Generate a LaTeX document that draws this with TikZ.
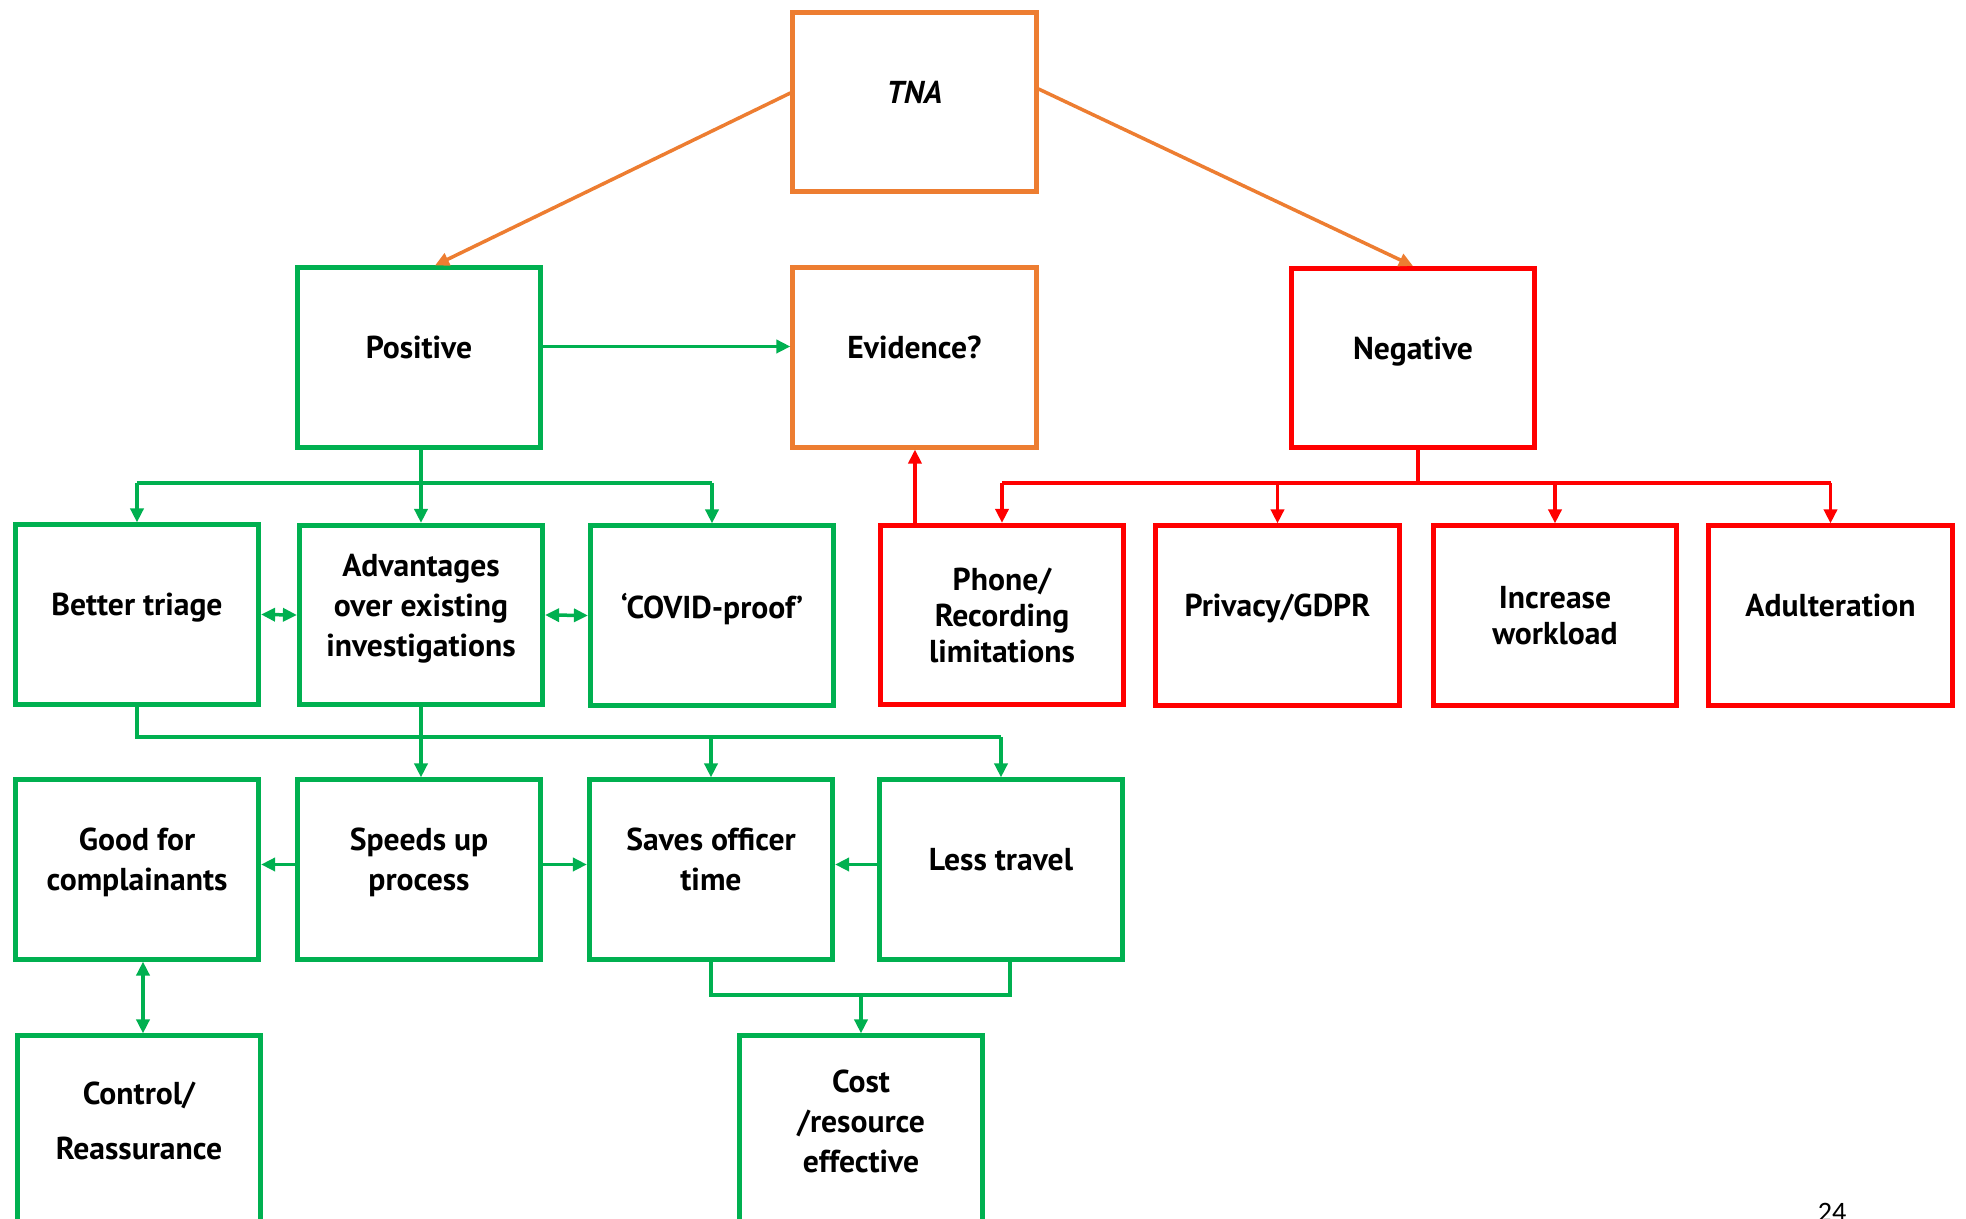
\documentclass[tikz,border=0pt]{standalone}
\usepackage{fontspec}
\usepackage{xcolor}
\usepackage{tikz}
\usetikzlibrary{arrows.meta}
\setmainfont{PT Sans}
\newfontfamily\pagefont{Carlito}

\definecolor{grn}{HTML}{00B050}
\definecolor{org}{HTML}{ED7D31}
\definecolor{rd}{HTML}{FF0000}

\begin{document}
\begin{tikzpicture}[
    x=0.01cm, y=-0.01cm,
    every node/.style={font=\bfseries\fontsize{9}{11.4}\selectfont},
    basic_box/.style={rectangle, line width=0.05cm, minimum width=2.43cm, minimum height=1.79cm, align=center, inner sep=2pt, text depth=0.2cm},
    pro_box/.style={basic_box, draw=grn},
    con_box/.style={basic_box, draw=rd},
    hub_box/.style={basic_box, draw=org},
    grn_line/.style={draw=grn, line width=0.035cm},
    grn_arrow/.style={grn_line, -{Triangle[length=0.14cm,width=0.13cm]}},
    grn_both/.style={grn_line, {Triangle[length=0.14cm,width=0.13cm]}-{Triangle[length=0.14cm,width=0.13cm]}},
    red_line/.style={draw=rd, line width=0.035cm},
    red_arrow/.style={red_line, -{Triangle[length=0.14cm,width=0.13cm]}},
    org_arrow/.style={draw=org, line width=0.035cm, -{Triangle[length=0.14cm,width=0.13cm]}}
]
\useasboundingbox (0,0) rectangle (1966,1219);
\clip (0,0) rectangle (1966,1219);

% Nodes
\node[hub_box] (tna) at (914.5,102) {\itshape TNA};
\node[pro_box] (pos) at (419,357.5) {Positive};
\node[hub_box] (ev) at (914.5,357.5) {Evidence?};
\node[con_box] (neg) at (1413,358) {Negative};

\node[pro_box] (tri) at (137,614.5) {Better triage};
\node[pro_box] (adv) at (421,615) {Advantages\\over existing\\investigations};
\node[pro_box] (cov) at (712,615.5) {‘COVID-proof’};
\node[con_box, text depth=0pt, font=\bfseries\fontsize{9}{10.2}\selectfont] (pho) at (1002,615) {Phone/\\Recording\\limitations};
\node[con_box] (pri) at (1277.5,615.5) {Privacy/GDPR};
\node[con_box, text depth=0pt, font=\bfseries\fontsize{9}{10.2}\selectfont] (inc) at (1555,615.5) {Increase\\workload};
\node[con_box] (adu) at (1830.5,615.5) {Adulteration};

\node[pro_box] (good) at (137,869.5) {Good for\\complainants};
\node[pro_box] (spd) at (419,869.5) {Speeds up\\process};
\node[pro_box] (sav) at (711,869.5) {Saves officer\\time};
\node[pro_box] (les) at (1001,869.5) {Less travel};

\node[pro_box, minimum height=1.9cm, font=\bfseries\fontsize{9}{15.6}\selectfont] (ctl) at (139,1131) {Control/\\Reassurance};
\node[pro_box, minimum height=1.9cm] (cst) at (861,1131) {Cost\\/resource\\effective};

\node[font=\pagefont\fontsize{8}{9}\selectfont, anchor=north, inner sep=0pt] (pgno) at (1832,1203) {24};

% Edges from TNA
\draw[org_arrow] ([yshift=0.09cm]tna.west) -- ([xshift=0.16cm]pos.north);
\draw[org_arrow] ([yshift=0.13cm]tna.east) -- (neg.north);
\draw[grn_arrow] ([yshift=0.11cm]pos.east) -- ([yshift=0.11cm]ev.west);

% Positive branch
\coordinate (pbus) at (0,483);
\draw[grn_arrow] (adv.north |- pos.south) -- (adv.north);
\draw[grn_line] (tri.north |- pbus) -- (cov.north |- pbus);
\foreach \n in {tri,cov}
    \draw[grn_arrow] (\n.north |- pbus) -- (\n.north);
\draw[grn_both] (tri.east) -- (adv.west);
\draw[grn_both] (adv.east) -- (cov.west);

\coordinate (mbus) at (0,737);
\draw[grn_line] (tri.south) -- (tri.south |- mbus) -- (les.north |- mbus);
\draw[grn_arrow] (adv.south) -- (adv.south |- spd.north);
\foreach \n in {sav,les}
    \draw[grn_arrow] (\n.north |- mbus) -- (\n.north);

\draw[grn_arrow] ([yshift=0.05cm]spd.west) -- ([yshift=0.05cm]good.east);
\draw[grn_arrow] ([yshift=0.05cm]spd.east) -- ([yshift=0.05cm]sav.west);
\draw[grn_arrow] ([yshift=0.05cm]les.west) -- ([yshift=0.05cm]sav.east);
\draw[grn_both] ([xshift=0.06cm]good.south) -- ([xshift=0.06cm]good.south |- ctl.north);

\coordinate (cbus) at (0,995);
\draw[grn_line] (sav.south) -- (sav.south |- cbus) -- ([xshift=0.09cm]les.south |- cbus) -- ([xshift=0.09cm]les.south);
\draw[grn_arrow] (cst.north |- cbus) -- (cst.north);

% Negative branch
\coordinate (nbus) at (0,483);
\draw[red_line] ([xshift=0.05cm]neg.south) -- ([xshift=0.05cm]neg.south |- nbus);
\draw[red_line] (pho.north |- nbus) -- (adu.north |- nbus);
\foreach \n in {pho,pri,inc,adu}
    \draw[red_arrow] (\n.north |- nbus) -- (\n.north);
\draw[red_arrow] ([xshift=-0.87cm]pho.north) -- ([xshift=-0.87cm]pho.north |- ev.south);

\end{tikzpicture}
\end{document}
